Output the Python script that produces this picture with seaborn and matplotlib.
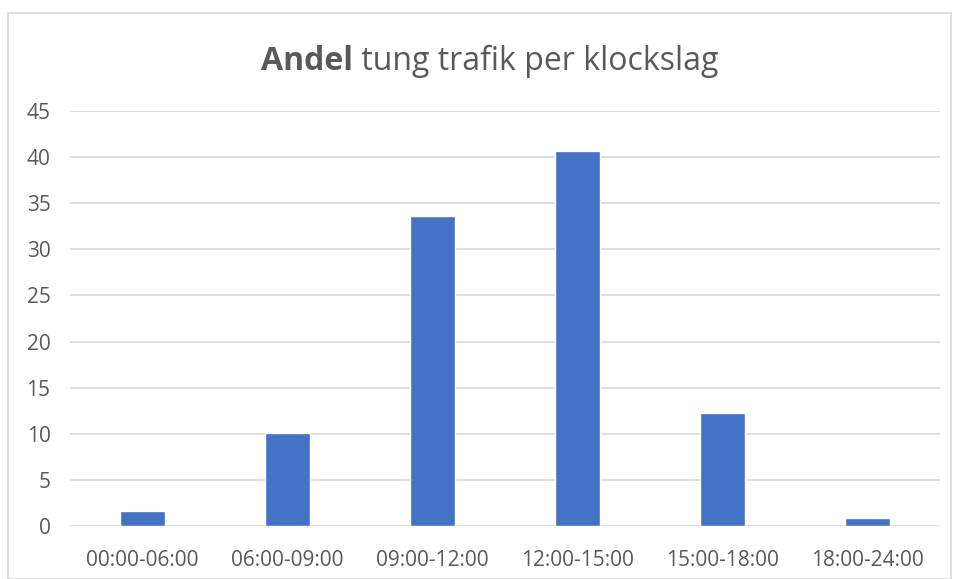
import matplotlib
matplotlib.use("Agg")
import matplotlib.pyplot as plt
import seaborn as sns
import pandas as pd
from matplotlib.patches import Rectangle

# Data
categories = ["00:00-06:00", "06:00-09:00", "09:00-12:00", "12:00-15:00", "15:00-18:00", "18:00-24:00"]
values = [1.6, 10.1, 33.6, 40.7, 12.2, 0.9]
y_ticks = [0, 5, 10, 15, 20, 25, 30, 35, 40, 45]

df = pd.DataFrame({"klockslag": categories, "andel": values})

sns.set_theme(style="white")
plt.rcParams["font.family"] = ["Open Sans", "DejaVu Sans"]
text_color = "#595959"

fig = plt.figure(figsize=(9.56, 5.79), dpi=100)
ax = fig.add_axes([70 / 956, 1 - 526 / 579, 870 / 956, 415 / 579])

sns.barplot(data=df, x="klockslag", y="andel", color="#4472C4", width=0.315,
            saturation=1, ax=ax, zorder=3)

ax.set_ylim(0, 45)
ax.set_yticks(y_ticks)
ax.set_xlim(-0.5, len(categories) - 0.5)
ax.yaxis.grid(True, color="#D9D9D9", linewidth=1.2, zorder=0)
ax.set_axisbelow(True)
for s in ax.spines.values():
    s.set_visible(False)
ax.tick_params(axis="both", length=0, labelsize=15, colors=text_color)
ax.tick_params(axis="x", pad=17)
ax.tick_params(axis="y", pad=14)
ax.set_xlabel("")
ax.set_ylabel("")

# Chart border like the source
fig.patches.append(Rectangle((8 / 956, 0.5 / 579), 943 / 956, 566 / 579,
                             transform=fig.transFigure, fill=False,
                             edgecolor="#D9D9D9", linewidth=1.2))

# Title: bold first word, regular rest, centred together
fig.canvas.draw()
r = fig.canvas.get_renderer()
t1 = fig.text(0, 1 - 70 / 579, "Andel", fontsize=23, fontweight="bold", color=text_color, va="baseline")
t2 = fig.text(0, 1 - 70 / 579, " tung trafik per klockslag", fontsize=23, color=text_color, va="baseline")
w1 = t1.get_window_extent(r).width
w2 = t2.get_window_extent(r).width
cx = 490
start = cx - (w1 + w2) / 2
t1.set_x(start / 956)
t2.set_x((start + w1) / 956)

fig.savefig("out.png", dpi=100)
